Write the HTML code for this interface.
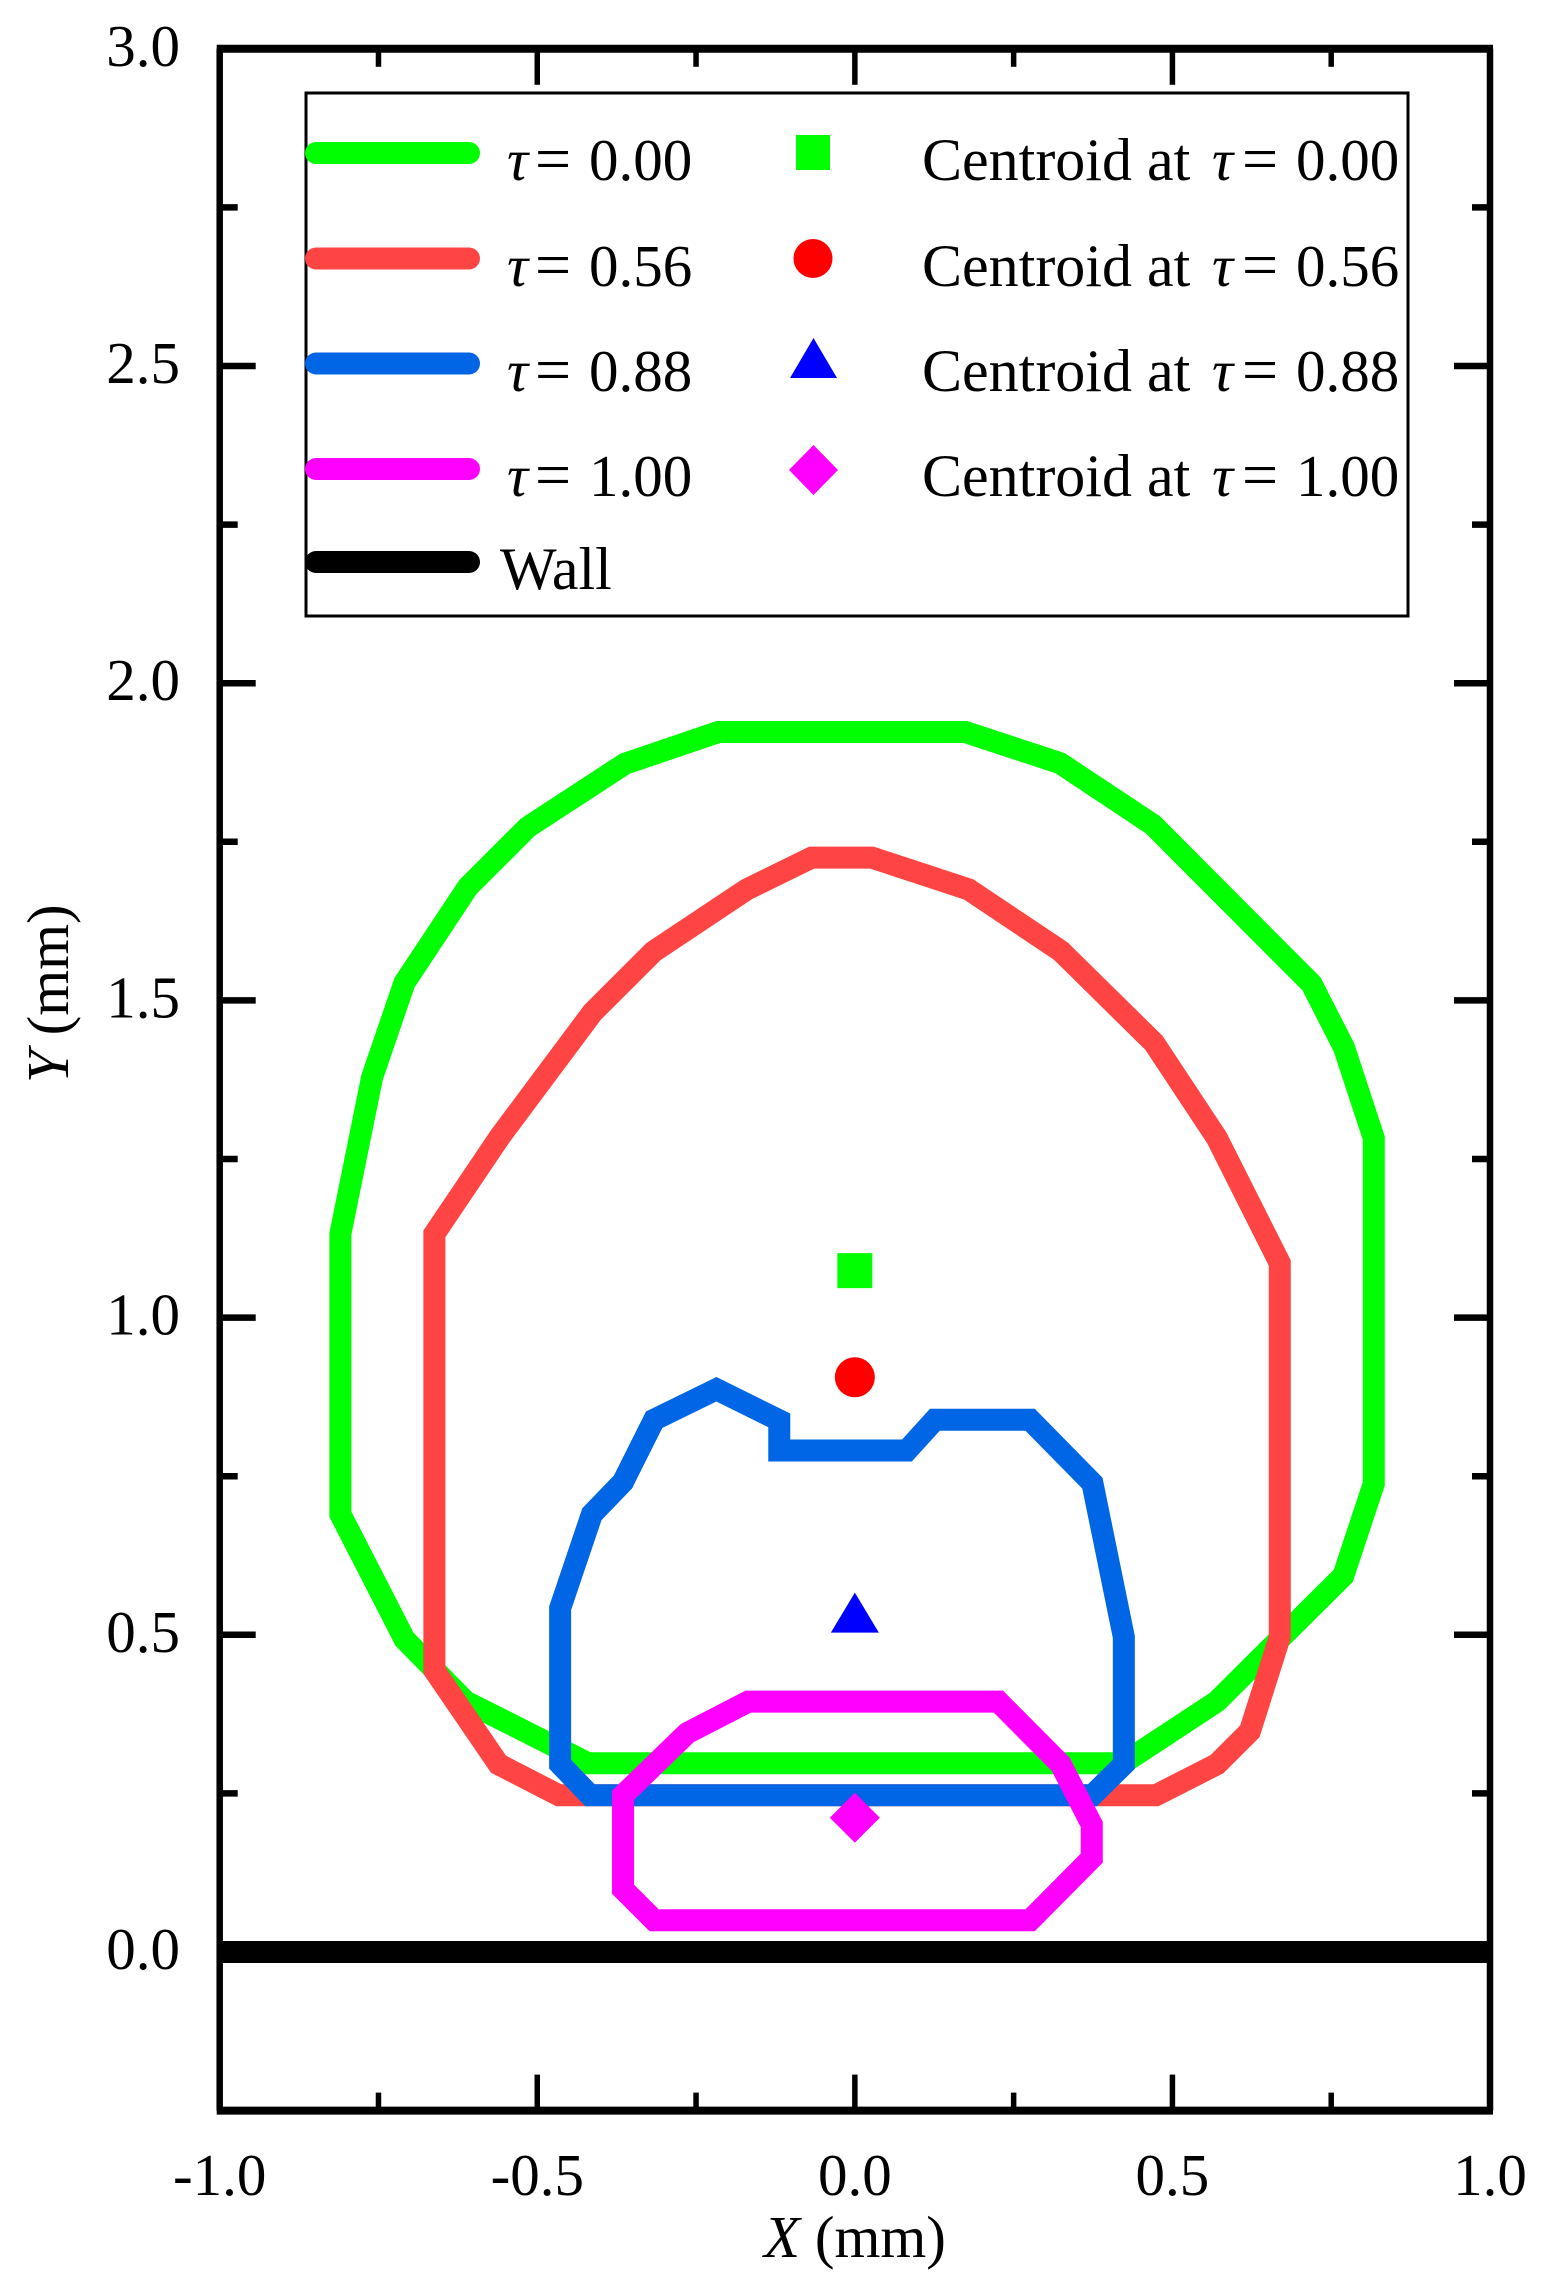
<!DOCTYPE html>
<html lang="en">
<head>
<meta charset="utf-8">
<title>Bubble contour chart</title>
<style>
html,body{margin:0;padding:0;background:#fff}
svg{display:block}
text{font-family:"Liberation Serif",serif;font-size:59px;fill:#000}
.it{font-style:italic}
.eq{font-size:64px}
.wide{font-size:60px}
</style>
</head>
<body>
<svg id="chart" xmlns="http://www.w3.org/2000/svg" width="1545" height="2291" viewBox="0 0 1545 2291">
  <rect x="0" y="0" width="1545" height="2291" fill="#fff"/>
  <g id="series-layer"></g>
  <g id="centroid-layer"></g>
  <g id="axes-layer"></g>

  <g>
    <rect x="306" y="93" width="1102" height="523" fill="#fff" stroke="#000" stroke-width="3"/>

    <line x1="316" y1="153" x2="469" y2="153" stroke="#00ff00" stroke-width="22" stroke-linecap="round"/>
    <text y="180"><tspan class="it" x="507">τ</tspan><tspan class="eq" x="535">=</tspan><tspan x="589">0.00</tspan></text>
    <rect x="796" y="135" width="34" height="35" fill="#00ff00"/>
    <text y="180"><tspan class="wide" x="922">Centroid at</tspan><tspan class="it" x="1212">τ</tspan><tspan class="eq" x="1242">=</tspan><tspan x="1296">0.00</tspan></text>

    <line x1="316" y1="258.5" x2="469" y2="258.5" stroke="#ff4444" stroke-width="22" stroke-linecap="round"/>
    <text y="286"><tspan class="it" x="507">τ</tspan><tspan class="eq" x="535">=</tspan><tspan x="589">0.56</tspan></text>
    <circle cx="813" cy="258.5" r="19.5" fill="#ff0000"/>
    <text y="286"><tspan class="wide" x="922">Centroid at</tspan><tspan class="it" x="1212">τ</tspan><tspan class="eq" x="1242">=</tspan><tspan x="1296">0.56</tspan></text>

    <line x1="316" y1="363.5" x2="469" y2="363.5" stroke="#0066e6" stroke-width="22" stroke-linecap="round"/>
    <text y="391"><tspan class="it" x="507">τ</tspan><tspan class="eq" x="535">=</tspan><tspan x="589">0.88</tspan></text>
    <polygon points="813.5,338 837,378 790,378" fill="#0000ff"/>
    <text y="391"><tspan class="wide" x="922">Centroid at</tspan><tspan class="it" x="1212">τ</tspan><tspan class="eq" x="1242">=</tspan><tspan x="1296">0.88</tspan></text>

    <line x1="316" y1="469" x2="469" y2="469" stroke="#ff00ff" stroke-width="22" stroke-linecap="round"/>
    <text y="496"><tspan class="it" x="507">τ</tspan><tspan class="eq" x="535">=</tspan><tspan x="589">1.00</tspan></text>
    <polygon points="813.5,445 838,470 813.5,495 789,470" fill="#ff00ff"/>
    <text y="496"><tspan class="wide" x="922">Centroid at</tspan><tspan class="it" x="1212">τ</tspan><tspan class="eq" x="1242">=</tspan><tspan x="1296">1.00</tspan></text>

    <line x1="316" y1="562" x2="469" y2="562" stroke="#000" stroke-width="22" stroke-linecap="round"/>
    <text class="wide" x="500" y="589">Wall</text>
  </g>

  <text x="855" y="2257" text-anchor="middle"><tspan class="it">X</tspan> (mm)</text>
  <text transform="translate(68,1083) rotate(-90)"><tspan class="it">Y</tspan> (mm)</text>
</svg>

<script>
// Contour at tau = 0.00
const greenX = [-0.215, 0.174, 0.323, 0.469, 0.719, 0.770, 0.817, 0.817, 0.769, 0.570, 0.422, -0.420, -0.613, -0.709, -0.810, -0.810, -0.760, -0.709, -0.609, -0.515, -0.362];
const greenY = [1.923, 1.923, 1.874, 1.777, 1.526, 1.426, 1.283, 0.738, 0.593, 0.395, 0.2975, 0.2975, 0.395, 0.493, 0.690, 1.132, 1.379, 1.528, 1.679, 1.773, 1.873];
// Contour at tau = 0.56
const redX = [-0.068, 0.027, 0.179, 0.324, 0.471, 0.570, 0.669, 0.669, 0.622, 0.570, 0.474, -0.466, -0.561, -0.662, -0.662, -0.559, -0.413, -0.317, -0.170];
const redY = [1.725, 1.725, 1.675, 1.578, 1.433, 1.283, 1.086, 0.4966, 0.348, 0.296, 0.247, 0.247, 0.296, 0.444, 1.132, 1.285, 1.481, 1.577, 1.675];
// Contour at tau = 0.88
const blueX = [-0.218, -0.119, -0.119, 0.082, 0.126, 0.276, 0.374, 0.4235, 0.4235, 0.374, -0.417, -0.464, -0.464, -0.414, -0.365, -0.316];
const blueY = [0.887, 0.838, 0.7905, 0.7905, 0.839, 0.839, 0.739, 0.4966, 0.296, 0.247, 0.247, 0.296, 0.542, 0.690, 0.741, 0.839];
// Contour at tau = 1.00
const magentaX = [-0.168, 0.226, 0.324, 0.373, 0.373, 0.276, -0.316, -0.365, -0.365, -0.264];
const magentaY = [0.3946, 0.3946, 0.296, 0.201, 0.148, 0.05, 0.05, 0.099, 0.247, 0.345];
// Centroids, one per contour
const centroidX = [0, 0, 0, 0];
const centroidY = [1.074, 0.906, 0.535, 0.2117];
// Wall height
const wallY = [0];
// Axis ticks and labels
const xMajorTicks = [-1, -0.5, 0, 0.5, 1];
const xTickLabels = ["-1.0", "-0.5", "0.0", "0.5", "1.0"];
const xMinorTicks = [-0.75, -0.25, 0.25, 0.75];
const yMajorTicks = [0, 0.5, 1, 1.5, 2, 2.5, 3];
const yTickLabels = ["0.0", "0.5", "1.0", "1.5", "2.0", "2.5", "3.0"];
const yMinorTicks = [0.25, 0.75, 1.25, 1.75, 2.25, 2.75];
// Axis ranges
const xRange = [-1, 1];
const yRange = [-0.25, 3];

const SVGNS = "http://www.w3.org/2000/svg";
const plotLeft = 219.7, plotRight = 1490, plotTop = 48.8, plotBottom = 2110.6;

function xScale(v) {
  return plotLeft + (v - xRange[0]) / (xRange[1] - xRange[0]) * (plotRight - plotLeft);
}
function yScale(v) {
  return plotBottom - (v - yRange[0]) / (yRange[1] - yRange[0]) * (plotBottom - plotTop);
}
function make(tag, parent) {
  const el = document.createElementNS(SVGNS, tag);
  parent.appendChild(el);
  return el;
}
function drawContour(xs, ys, color, name) {
  const p = make("polygon", document.getElementById("series-layer"));
  
  
  p.setAttribute("points", xs.map((x, i) => xScale(x).toFixed(2) + "," + yScale(ys[i]).toFixed(2)).join(" "));
  p.setAttribute("fill", "none");
  p.setAttribute("stroke", color);
  p.setAttribute("stroke-width", "22");
  p.setAttribute("stroke-linejoin", "miter");
  p.setAttribute("stroke-miterlimit", "3");
}
drawContour(greenX, greenY, "#00ff00", "contour-tau-0-00");
drawContour(redX, redY, "#ff4444", "contour-tau-0-56");
drawContour(blueX, blueY, "#0066e6", "contour-tau-0-88");
drawContour(magentaX, magentaY, "#ff00ff", "contour-tau-1-00");

// Centroid markers
const centroidLayer = document.getElementById("centroid-layer");
const cx0 = xScale(centroidX[0]), cy0 = yScale(centroidY[0]);
const squareMark = make("rect", centroidLayer);


squareMark.setAttribute("x", cx0 - 17.5);
squareMark.setAttribute("y", cy0 - 17.5);
squareMark.setAttribute("width", 35);
squareMark.setAttribute("height", 35);
squareMark.setAttribute("fill", "#00ff00");

const cx1 = xScale(centroidX[1]), cy1 = yScale(centroidY[1]);
const circleMark = make("circle", centroidLayer);


circleMark.setAttribute("cx", cx1);
circleMark.setAttribute("cy", cy1);
circleMark.setAttribute("r", 20);
circleMark.setAttribute("fill", "#ff0000");

const cx2 = xScale(centroidX[2]), cy2 = yScale(centroidY[2]);
const triangleMark = make("polygon", centroidLayer);


triangleMark.setAttribute("points", cx2 + "," + (cy2 - 20) + " " + (cx2 + 24) + "," + (cy2 + 20) + " " + (cx2 - 24) + "," + (cy2 + 20));
triangleMark.setAttribute("fill", "#0000ff");

const cx3 = xScale(centroidX[3]), cy3 = yScale(centroidY[3]);
const diamondMark = make("polygon", centroidLayer);


diamondMark.setAttribute("points", cx3 + "," + (cy3 - 25) + " " + (cx3 + 25) + "," + cy3 + " " + cx3 + "," + (cy3 + 25) + " " + (cx3 - 25) + "," + cy3);
diamondMark.setAttribute("fill", "#ff00ff");

// Axes
const axesLayer = document.getElementById("axes-layer");
function drawLine(x1, y1, x2, y2, w, name) {
  const l = make("line", axesLayer);
  
  
  l.setAttribute("x1", x1);
  l.setAttribute("y1", y1);
  l.setAttribute("x2", x2);
  l.setAttribute("y2", y2);
  l.setAttribute("stroke", "#000");
  l.setAttribute("stroke-width", w);
}
wallY.forEach(v => drawLine(plotLeft, yScale(v), plotRight, yScale(v), 22, "wall-line"));
drawLine(plotLeft, plotTop, plotLeft, plotBottom, 6.5, "y-axis-left");
drawLine(plotRight, plotTop, plotRight, plotBottom, 6.5, "y-axis-right");
drawLine(plotLeft - 3, plotTop, plotRight + 3, plotTop, 8, "x-axis-top");
drawLine(plotLeft - 3, plotBottom, plotRight + 3, plotBottom, 8, "x-axis-bottom");

xMajorTicks.forEach((v, i) => {
  const x = xScale(v);
  drawLine(x, plotBottom, x, plotBottom - 36, 5.5, "x-major-tick-bottom");
  drawLine(x, plotTop, x, plotTop + 36, 5.5, "x-major-tick-top");
  const t = make("text", axesLayer);
  
  
  t.setAttribute("x", x);
  t.setAttribute("y", 2195);
  t.setAttribute("text-anchor", "middle");
  t.textContent = xTickLabels[i];
});
xMinorTicks.forEach(v => {
  const x = xScale(v);
  drawLine(x, plotBottom, x, plotBottom - 18, 5.5, "x-minor-tick-bottom");
  drawLine(x, plotTop, x, plotTop + 18, 5.5, "x-minor-tick-top");
});
yMajorTicks.forEach((v, i) => {
  const y = yScale(v);
  drawLine(plotLeft, y, plotLeft + 36, y, 6.5, "y-major-tick-left");
  drawLine(plotRight, y, plotRight - 36, y, 6.5, "y-major-tick-right");
  const t = make("text", axesLayer);
  
  
  t.setAttribute("x", 180);
  t.setAttribute("y", y + 17);
  t.setAttribute("text-anchor", "end");
  t.textContent = yTickLabels[i];
});
yMinorTicks.forEach(v => {
  const y = yScale(v);
  drawLine(plotLeft, y, plotLeft + 18, y, 6.5, "y-minor-tick-left");
  drawLine(plotRight, y, plotRight - 18, y, 6.5, "y-minor-tick-right");
});
</script>
</body>
</html>
